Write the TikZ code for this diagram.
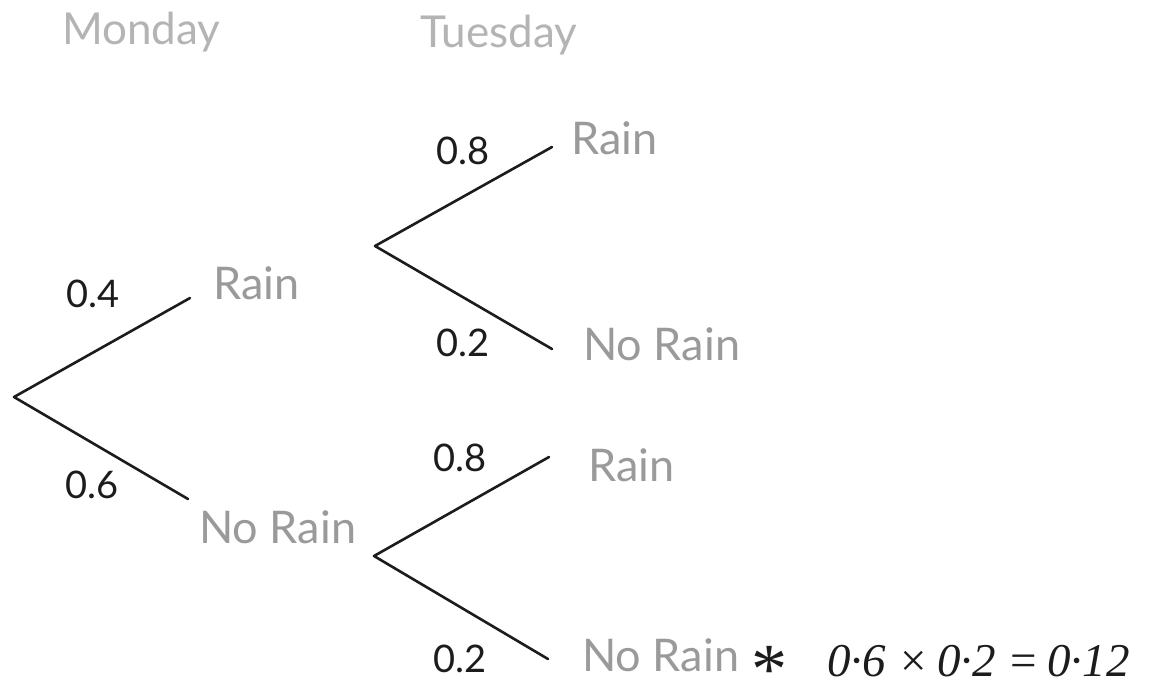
\documentclass[tikz,border=0pt]{standalone}
\usepackage{fontspec}
\setmainfont{Lato}
\newfontfamily\handfont{Liberation Serif}
\definecolor{labgray}{HTML}{9A9A9A}
\definecolor{headgray}{HTML}{B4B4B4}
\definecolor{ink}{HTML}{1C1C1C}
\begin{document}
\begin{tikzpicture}[x=1pt,y=-1pt,
  branch/.style={draw=ink,line width=2.6pt,line cap=round,line join=round},
  outcome/.style={anchor=base west,inner sep=0pt,text=labgray,font=\fontsize{45}{48}\selectfont},
  head/.style={anchor=base west,inner sep=0pt,text=headgray,font=\fontsize{44}{48}\selectfont},
  prob/.style={anchor=base west,inner sep=0pt,text=ink,font=\fontsize{38}{40}\selectfont},
  hand/.style={anchor=base west,inner sep=0pt,text=ink,font=\handfont\itshape\fontsize{47}{50}\selectfont}]
\useasboundingbox (0,0) rectangle (1156,689);
\fill[white] (0,0) rectangle (1156,689);
% headings
\node[head] (mon) at (62,44) {Monday};
\node[head] (tue) at (420,47) {Tuesday};
% branch points
\coordinate (r0) at (14,397);
\coordinate (m1) at (190,298);
\coordinate (m2) at (188,499);
\coordinate (u0) at (375,246);
\coordinate (u1) at (552,147);
\coordinate (u2) at (552,349);
\coordinate (l0) at (374,556);
\coordinate (l1) at (549,457);
\coordinate (l2) at (548,659);
% connectors
\draw[branch] (m1) -- (r0) -- (m2);
\draw[branch] (u1) -- (u0) -- (u2);
\draw[branch] (l1) -- (l0) -- (l2);
% probabilities
\node[prob] (p04) at (66,307) {0.4};
\node[prob] (p06) at (65,498) {0.6};
\node[prob] (p08a) at (436,164) {0.8};
\node[prob] (p02a) at (436,356) {0.2};
\node[prob] (p08b) at (433,471) {0.8};
\node[prob] (p02b) at (433,672) {0.2};
% outcomes
\node[outcome] (rain1) at (213,299) {Rain};
\node[outcome] (norain1) at (199,543) {No Rain};
\node[outcome] (rainA) at (571,154) {Rain};
\node[outcome] (norainA) at (583,360) {No Rain};
\node[outcome] (rainB) at (588,481) {Rain};
\node[outcome] (norainB) at (582,671) {No Rain};
% handwritten note
\node[anchor=center,inner sep=0pt,text=ink,font=\handfont\fontsize{72}{74}\selectfont] (star) at (769,670) {*};
\node[hand] (calc) at (827,676) {0·6 ×\,0·2 =\,0·12};
\end{tikzpicture}
\end{document}
